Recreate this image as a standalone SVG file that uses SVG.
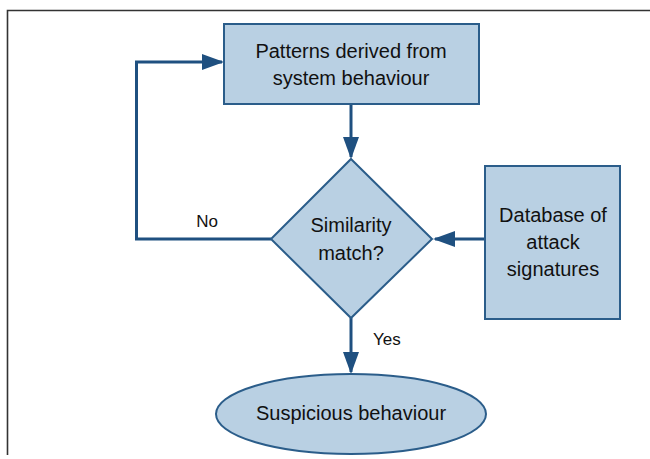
<svg xmlns="http://www.w3.org/2000/svg" width="650" height="459" viewBox="0 0 650 459">
<style>
.node{fill:#b9d0e3;stroke:#2b5d8a;stroke-width:2}
.conn{fill:none;stroke:#1f5080;stroke-width:3}
.t{font-family:"Liberation Sans",Arial,sans-serif;font-size:20px;fill:#111;text-anchor:middle}
.lbl{font-family:"Liberation Sans",Arial,sans-serif;font-size:17px;fill:#111}
.frame{stroke:#333;stroke-width:1.6;fill:none}
</style>
<defs>
<marker id="ah" markerUnits="userSpaceOnUse" markerWidth="22" markerHeight="16" refX="20" refY="8" orient="auto">
<path d="M0,0 L22,8 L0,16 z" fill="#1f5080"/>
</marker>
</defs>
<rect width="650" height="459" fill="#fff"/>
<path class="frame" d="M7.5,455 V10.5 H650"/>
<g id="connectors">
<line class="conn" x1="351" y1="104" x2="351" y2="157" marker-end="url(#ah)"/>
<polyline class="conn" points="271,239 136.5,239 136.5,62 222,62" marker-end="url(#ah)"/>
<line class="conn" x1="485" y1="239" x2="435" y2="239" marker-end="url(#ah)"/>
<line class="conn" x1="351" y1="318" x2="351" y2="372" marker-end="url(#ah)"/>
<text class="lbl" x="207" y="227" text-anchor="middle">No</text>
<text class="lbl" x="373" y="345">Yes</text>
</g>
<g id="patterns">
<rect class="node" x="224" y="24" width="255" height="80"/>
<text class="t" x="351" y="58">Patterns derived from</text>
<text class="t" x="351" y="85">system behaviour</text>
</g>
<g id="similarity">
<polygon class="node" points="351,159 432,239 351,318 271,239"/>
<text class="t" x="351" y="232">Similarity</text>
<text class="t" x="351" y="260">match?</text>
</g>
<g id="database">
<rect class="node" x="485" y="166" width="135" height="153"/>
<text class="t" x="553" y="222">Database of</text>
<text class="t" x="553" y="249">attack</text>
<text class="t" x="553" y="276">signatures</text>
</g>
<g id="suspicious">
<ellipse class="node" cx="351" cy="414" rx="135" ry="40" stroke-width="1.5"/>
<text class="t" x="351" y="420">Suspicious behaviour</text>
</g>
</svg>
